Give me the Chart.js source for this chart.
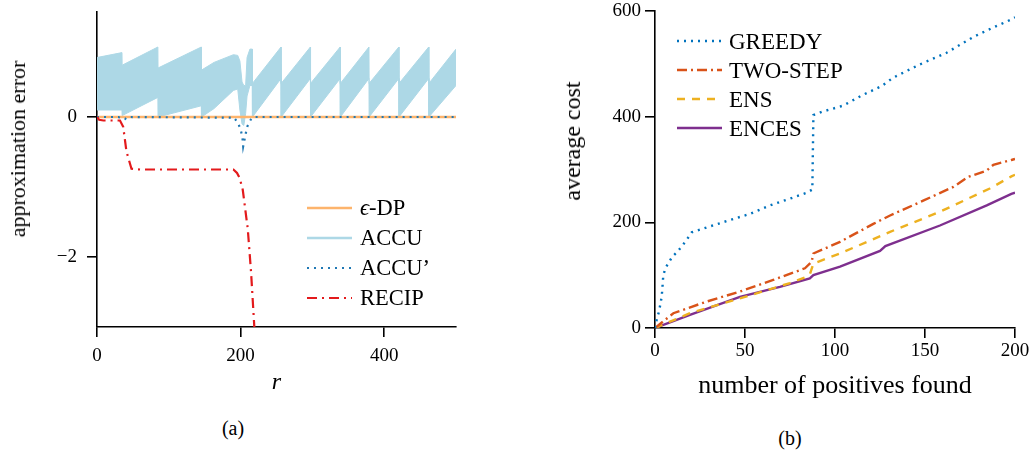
<!DOCTYPE html>
<html>
<head>
<meta charset="utf-8">
<script src="https://cdn.jsdelivr.net/npm/chart.js@4.4.0/dist/chart.umd.min.js"></script>
<style>
  html, body { margin: 0; padding: 0; background: #fff; }
  body { width: 1032px; height: 450px; position: relative; overflow: hidden; font-family: "Liberation Serif", serif; color: #000; }
  canvas { position: absolute; top: 0; }
  .t { position: absolute; white-space: nowrap; line-height: 1; }
</style>
</head>
<body>
<canvas id="cA" width="500" height="400" style="left:0px"></canvas>
<canvas id="cB" width="512" height="410" style="left:520px"></canvas>

<div class="t" style="left:18px; top:149px; font-size:22px; transform: translate(-50%,-50%) rotate(-90deg);">approximation error</div>
<div class="t" style="left:572px; top:141px; font-size:24px; transform: translate(-50%,-50%) rotate(-90deg);">average cost</div>
<div class="t" style="left:233px; top:428px; font-size:20px; transform: translate(-50%,-50%);">(a)</div>
<div class="t" style="left:790px; top:438px; font-size:20px; transform: translate(-50%,-50%);">(b)</div>

<script>
// ---------- Panel (a) data ----------
const aTicksX = [0, 200, 400];
const aTicksY = [-2, 0];

const epsR = [0, 500];
const epsV = [0, 0];

// ACCU oscillates very fast; its envelope (upper / lower)
const accuR  = [0, 34.8, 35, 84.8, 85, 145.3, 145.5, 163, 190, 196, 199, 202, 204.5, 207, 209, 213, 216.3, 216.5, 256.3, 256.5, 297.2, 297.4, 338.7, 338.9, 378.8, 379, 420.4, 420.6, 462, 462.2, 500];
const accuHi = [0.85, 0.92, 0.74, 1.0, 0.70, 1.0, 0.67, 0.78, 0.89, 0.88, 0.80, 0.50, 0.45, 0.45, 0.85, 0.97, 0.97, 0.48, 1.0, 0.48, 1.0, 0.48, 1.0, 0.48, 1.0, 0.48, 1.0, 0.48, 1.0, 0.48, 0.97];
const accuLo = [0.10, 0.10, 0.02, 0.28, 0.0, 0.16, 0.0, 0.12, 0.38, 0.40, 0.10, -0.10, -0.12, 0.05, 0.30, 0.45, 0.45, 0.0, 0.55, 0.0, 0.55, 0.0, 0.55, 0.0, 0.55, 0.0, 0.55, 0.0, 0.55, 0.0, 0.45];

const accuPR = [0, 30, 34, 39, 42, 191, 196.7, 200.4, 202.6, 203.6, 205, 207.3, 209.6, 214, 218, 500];
const accuPV = [0, 0, -0.02, -0.03, 0, -0.01, -0.09, -0.19, -0.30, -0.42, -0.35, -0.23, -0.13, -0.04, 0, 0];

const recipR = [0, 3, 9, 20, 32, 36.5, 41, 48, 60, 190, 195, 198.6, 203, 210, 214.6, 219, 221];
const recipV = [0, -0.04, -0.05, -0.05, -0.05, -0.14, -0.49, -0.74, -0.75, -0.75, -0.80, -0.87, -1.04, -1.60, -2.22, -2.98, -3.30];

// ---------- Panel (b) data ----------
const bTicksX = [0, 50, 100, 150, 200];
const bTicksY = [0, 200, 400, 600];

const greedyX = [0, 0.9, 2.2, 3.1, 3.7, 4.1, 4.6, 5.9, 9.6, 12.4, 17, 20.4, 29.3, 41.3, 52.8, 63.9, 75.9, 84.3, 87.4, 88, 92.6, 104.6, 114.8, 126, 132.4, 147.2, 162, 176.9, 188, 198, 200];
const greedyY = [0, 15, 31, 47, 59, 75, 100, 114, 135, 144, 164, 181, 191, 204, 216, 232, 246, 256, 262, 403, 409, 421, 440, 458, 474, 499, 521, 551, 569, 584, 588];

const twoX = [0, 10.2, 28.7, 47.2, 65.7, 83.3, 87, 88, 102.8, 121.3, 130.6, 149, 165.7, 174, 184.3, 188, 198, 200];
const twoY = [0, 28, 50, 69, 91, 113, 125, 141, 163, 197, 213, 241, 267, 286, 298, 309, 318, 320];

const ensX = [0, 19.4, 47.2, 75, 84.3, 86, 88, 102.8, 130.6, 158.3, 186, 198, 200];
const ensY = [0, 28, 56, 85, 97, 101, 122, 141, 182, 220, 264, 287, 290];

const encesX = [0, 19.4, 47.2, 69.4, 86, 88, 102.8, 125, 128, 158.3, 184.3, 198, 200];
const encesY = [0, 25, 59, 78, 94, 100, 116, 146, 155, 194, 232, 254, 256];

// ---------- helpers ----------
const pts = (xs, ys) => xs.map((x, i) => ({ x: x, y: ys[i] }));
const SERIF = '"Liberation Serif", "Times New Roman", serif';

const inLegend = {
  id: 'inLegend',
  afterDatasetsDraw(chart, args, opts) {
    const ctx = chart.ctx;
    ctx.save();
    const items = chart.data.datasets.filter(d => d.legendParts);
    items.forEach((d, i) => {
      const y = opts.y + i * opts.step;
      ctx.beginPath();
      ctx.setLineDash(d.borderDash || []);
      ctx.lineCap = 'butt';
      ctx.lineWidth = d.legendWidth || d.borderWidth;
      ctx.strokeStyle = d.legendColor || d.borderColor;
      ctx.moveTo(opts.x0, y);
      ctx.lineTo(opts.x1, y);
      ctx.stroke();
      ctx.setLineDash([]);
      ctx.fillStyle = '#000';
      ctx.textBaseline = 'alphabetic';
      let x = opts.tx;
      d.legendParts.forEach(p => {
        ctx.font = (p.italic ? 'italic ' : '') + opts.size + 'px ' + SERIF;
        ctx.fillText(p.text, x, y + opts.size * 0.33);
        x += ctx.measureText(p.text).width;
      });
    });
    ctx.restore();
  }
};

const minus = v => String(v).replace('-', '\u2212');

function axis(opts) {
  return Object.assign({
    type: 'linear',
    border: { display: true, color: '#000', width: 1.6 },
    grid: { display: true, drawOnChartArea: false, drawTicks: true, tickLength: 10, color: '#000', lineWidth: 1.6 },
  }, opts);
}
const fitX = h => s => { s.height = h; s.paddingLeft = 0; s.paddingRight = 0; };
const fitY = w => s => { s.width = w; s.paddingTop = 0; s.paddingBottom = 0; };

// ---------- Panel (a) ----------
new Chart(document.getElementById('cA'), {
  type: 'line',
  data: {
    datasets: [
      { label: '\u03f5-DP', data: pts(epsR, epsV), borderColor: '#fdb46c', borderWidth: 2.4, pointRadius: 0, fill: false, order: 2,
        legendParts: [{ text: '\u03f5', italic: true }, { text: '-DP' }] },
      { label: 'ACCU lower', data: pts(accuR, accuLo), borderColor: '#add8e6', borderWidth: 1, pointRadius: 0, fill: false, order: 4 },
      { label: 'ACCU', data: pts(accuR, accuHi), borderColor: '#add8e6', backgroundColor: '#add8e6', borderWidth: 1, pointRadius: 0, fill: '-1', order: 3,
        legendParts: [{ text: 'ACCU' }], legendWidth: 2.4 },
      { label: 'ACCU\u2019', data: pts(accuPR, accuPV), borderColor: '#1f78b4', borderWidth: 2.2, borderDash: [2, 5], pointRadius: 0, fill: false, order: 1,
        legendParts: [{ text: 'ACCU\u2019' }] },
      { label: 'RECIP', data: pts(recipR, recipV), borderColor: '#e31a1c', borderWidth: 2.2, borderDash: [10, 5, 2, 5], pointRadius: 0, fill: false, order: 0,
        legendParts: [{ text: 'RECIP' }] }
    ]
  },
  options: {
    responsive: false, animation: false, devicePixelRatio: 1,
    layout: { padding: { left: 0, top: 12, right: 44, bottom: 0 } },
    elements: { line: { tension: 0 } },
    plugins: {
      legend: { display: false }, tooltip: { enabled: false },
      inLegend: { x0: 307, x1: 352, tx: 360, y: 208, step: 30, size: 22.5 }
    },
    scales: {
      x: axis({
        min: 0, max: 500,
        afterFit: fitX(73),
        afterBuildTicks: s => { s.ticks = aTicksX.map(v => ({ value: v })); },
        ticks: { color: '#000', padding: 8, maxRotation: 0, font: { family: SERIF, size: 19 }, callback: v => minus(v) },
        title: { display: true, text: 'r', color: '#000', font: { family: SERIF, size: 24, style: 'italic' }, padding: { top: 0, bottom: 3 } }
      }),
      y: axis({
        min: -3, max: 1.5,
        afterFit: fitY(97),
        afterBuildTicks: s => { s.ticks = aTicksY.map(v => ({ value: v })); },
        ticks: { color: '#000', padding: 10, font: { family: SERIF, size: 19 }, callback: v => minus(v) }
      })
    }
  },
  plugins: [inLegend]
});

// ---------- Panel (b) ----------
new Chart(document.getElementById('cB'), {
  type: 'line',
  data: {
    datasets: [
      { label: 'GREEDY', data: pts(greedyX, greedyY), borderColor: '#0072bd', borderWidth: 2.4, borderDash: [2, 5], pointRadius: 0, fill: false,
        legendParts: [{ text: 'GREEDY' }] },
      { label: 'TWO-STEP', data: pts(twoX, twoY), borderColor: '#d95319', borderWidth: 2.4, borderDash: [10, 4, 2, 4], pointRadius: 0, fill: false,
        legendParts: [{ text: 'TWO-STEP' }] },
      { label: 'ENS', data: pts(ensX, ensY), borderColor: '#edb120', borderWidth: 2.4, borderDash: [8, 7], pointRadius: 0, fill: false,
        legendParts: [{ text: 'ENS' }] },
      { label: 'ENCES', data: pts(encesX, encesY), borderColor: '#7e2f8e', borderWidth: 2.4, pointRadius: 0, fill: false,
        legendParts: [{ text: 'ENCES' }] }
    ]
  },
  options: {
    responsive: false, animation: false, devicePixelRatio: 1,
    layout: { padding: { left: 0, top: 11, right: 17, bottom: 0 } },
    elements: { line: { tension: 0 } },
    plugins: {
      legend: { display: false }, tooltip: { enabled: false },
      inLegend: { x0: 157, x1: 202, tx: 209, y: 41, step: 29, size: 23 }
    },
    scales: {
      x: axis({
        min: 0, max: 200,
        afterFit: fitX(82),
        afterBuildTicks: s => { s.ticks = bTicksX.map(v => ({ value: v })); },
        ticks: { color: '#000', padding: 2, maxRotation: 0, font: { family: SERIF, size: 19 } },
        title: { display: true, text: 'number of positives found', color: '#000', font: { family: SERIF, size: 26 }, padding: { top: 0, bottom: 8 } }
      }),
      y: axis({
        min: 0, max: 600,
        afterFit: fitY(135),
        afterBuildTicks: s => { s.ticks = bTicksY.map(v => ({ value: v })); },
        ticks: { color: '#000', padding: 4, font: { family: SERIF, size: 19 } }
      })
    }
  },
  plugins: [inLegend]
});
</script>
</body>
</html>
